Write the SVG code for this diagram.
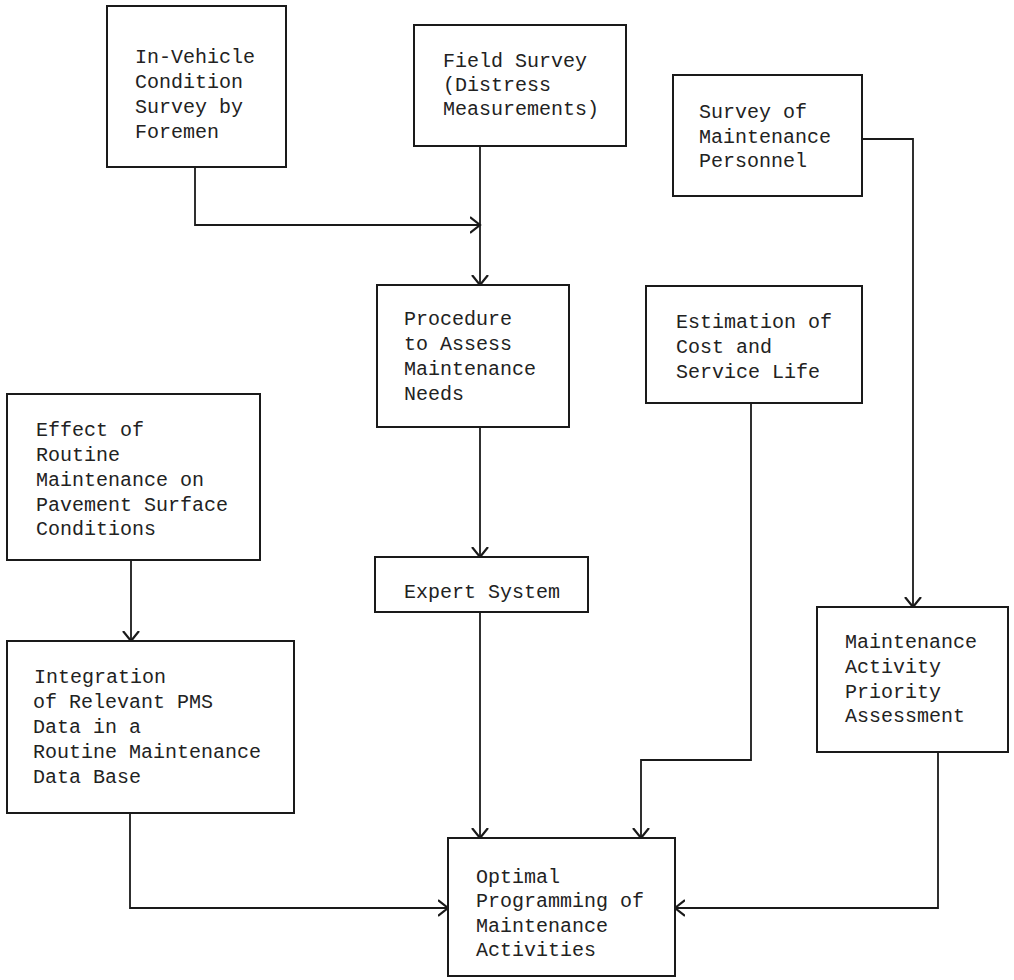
<svg xmlns="http://www.w3.org/2000/svg" width="1014" height="980" viewBox="0 0 1014 980">
<defs>
<style>
.box{fill:#fff;stroke:#1a1a1a;stroke-width:2}
.lbl{font-family:"Liberation Mono","Courier New",monospace;font-size:20px;fill:#222}
.con{fill:none;stroke:#1a1a1a;stroke-width:1.8}
</style>
<marker id="arr" markerUnits="userSpaceOnUse" markerWidth="14" markerHeight="20" refX="10" refY="9" orient="auto">
<path d="M0,1 L10,9 L0,17" fill="none" stroke="#1a1a1a" stroke-width="2.2"/>
</marker>
</defs>
<rect width="1014" height="980" fill="#fff"/>
<g id="connectors">
<path class="con" d="M195,167 V225 H480" marker-end="url(#arr)"/>
<path class="con" d="M480,146 V285" marker-end="url(#arr)"/>
<path class="con" d="M480,427 V557" marker-end="url(#arr)"/>
<path class="con" d="M480,612 V838" marker-end="url(#arr)"/>
<path class="con" d="M862,139 H913 V607" marker-end="url(#arr)"/>
<path class="con" d="M751,403 V760 H641 V838" marker-end="url(#arr)"/>
<path class="con" d="M131,560 V641" marker-end="url(#arr)"/>
<path class="con" d="M130,813 V908 H448" marker-end="url(#arr)"/>
<path class="con" d="M938,752 V908 H675" marker-end="url(#arr)"/>
</g>
<g id="n-invehicle">
<rect class="box" x="107" y="6" width="179" height="161"/>
<text class="lbl" x="135" y="63">In-Vehicle</text>
<text class="lbl" x="135" y="88">Condition</text>
<text class="lbl" x="135" y="113">Survey by</text>
<text class="lbl" x="135" y="138">Foremen</text>
</g>
<g id="n-field">
<rect class="box" x="414" y="25" width="212" height="121"/>
<text class="lbl" x="443" y="67">Field Survey</text>
<text class="lbl" x="443" y="91">(Distress</text>
<text class="lbl" x="443" y="115">Measurements)</text>
</g>
<g id="n-personnel">
<rect class="box" x="673" y="75" width="189" height="121"/>
<text class="lbl" x="699" y="118">Survey of</text>
<text class="lbl" x="699" y="143">Maintenance</text>
<text class="lbl" x="699" y="167">Personnel</text>
</g>
<g id="n-procedure">
<rect class="box" x="377" y="285" width="192" height="142"/>
<text class="lbl" x="404" y="325">Procedure</text>
<text class="lbl" x="404" y="350">to Assess</text>
<text class="lbl" x="404" y="375">Maintenance</text>
<text class="lbl" x="404" y="400">Needs</text>
</g>
<g id="n-estimation">
<rect class="box" x="646" y="286" width="216" height="117"/>
<text class="lbl" x="676" y="328">Estimation of</text>
<text class="lbl" x="676" y="353">Cost and</text>
<text class="lbl" x="676" y="378">Service Life</text>
</g>
<g id="n-effect">
<rect class="box" x="7" y="394" width="253" height="166"/>
<text class="lbl" x="36" y="436">Effect of</text>
<text class="lbl" x="36" y="461">Routine</text>
<text class="lbl" x="36" y="486">Maintenance on</text>
<text class="lbl" x="36" y="511">Pavement Surface</text>
<text class="lbl" x="36" y="535">Conditions</text>
</g>
<g id="n-expert">
<rect class="box" x="375" y="557" width="213" height="55"/>
<text class="lbl" x="404" y="598">Expert System</text>
</g>
<g id="n-integration">
<rect class="box" x="7" y="641" width="287" height="172"/>
<text class="lbl" x="34" y="683">Integration</text>
<text class="lbl" x="33" y="708">of Relevant PMS</text>
<text class="lbl" x="33" y="733">Data in a</text>
<text class="lbl" x="33" y="758">Routine Maintenance</text>
<text class="lbl" x="33" y="783">Data Base</text>
</g>
<g id="n-priority">
<rect class="box" x="817" y="607" width="191" height="145"/>
<text class="lbl" x="845" y="648">Maintenance</text>
<text class="lbl" x="845" y="673">Activity</text>
<text class="lbl" x="845" y="698">Priority</text>
<text class="lbl" x="845" y="722">Assessment</text>
</g>
<g id="n-optimal">
<rect class="box" x="448" y="838" width="227" height="138"/>
<text class="lbl" x="476" y="883">Optimal</text>
<text class="lbl" x="476" y="907">Programming of</text>
<text class="lbl" x="476" y="932">Maintenance</text>
<text class="lbl" x="476" y="956">Activities</text>
</g>
</svg>
